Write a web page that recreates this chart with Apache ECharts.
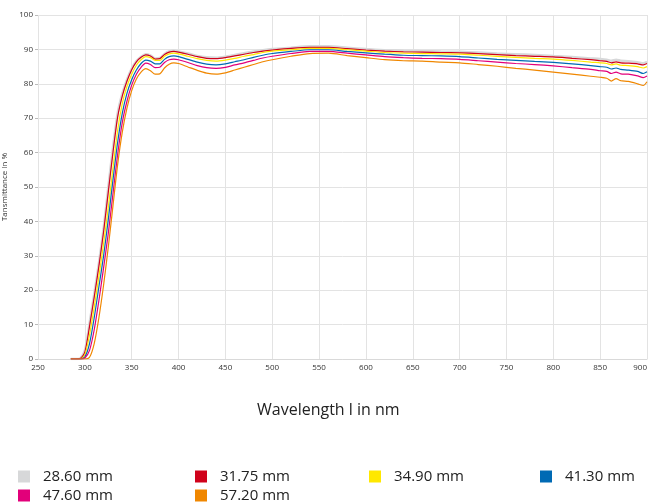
<!DOCTYPE html>
<html>
<head>
<meta charset="utf-8">
<script src="https://cdn.jsdelivr.net/npm/echarts@6/dist/echarts.min.js"></script>
<style>html,body{margin:0;padding:0;background:#fff;}#c{width:649px;height:504px;}</style>
</head>
<body>
<div id="c"></div>
<script>
const wavelengths = [285,290,295,300,305,310,315,320,325,330,335,340,345,350,355,360,365,370,375,380,385,390,395,400,410,420,430,440,450,460,470,480,490,500,520,540,560,580,600,620,640,660,680,700,720,740,760,780,800,820,840,850,857,862,867,872,880,890,896,900];

const s2860 = [0,0,0.2,2.5,10.5,19,28,38,50,61.5,71.5,77.2,81.3,84.4,86.6,87.9,88.6,88.3,87.4,87.5,88.7,89.4,89.6,89.4,88.8,88.1,87.7,87.6,87.9,88.4,88.9,89.4,89.8,90.1,90.5,90.9,90.9,90.5,90.1,89.8,89.6,89.5,89.4,89.3,89.1,88.8,88.6,88.4,88.1,87.8,87.4,87.2,87.0,86.7,87.0,86.7,86.6,86.3,86.0,86.4];
const s3175 = [0,0,0.1,2,9.5,18,27,37,48.5,60,70.3,76.5,80.8,84.1,86.4,87.7,88.4,88.1,87.2,87.3,88.5,89.2,89.4,89.2,88.6,87.9,87.4,87.3,87.6,88.1,88.6,89.1,89.5,89.8,90.3,90.6,90.6,90.2,89.8,89.5,89.3,89.2,89.1,89.0,88.8,88.5,88.2,88.0,87.8,87.4,87.0,86.7,86.5,86.1,86.4,86.1,86.0,85.8,85.5,85.9];
const s3490 = [0,0,0,1.2,7,15,24,33.5,44,55.5,66.5,74.3,79.3,82.8,85.4,87.0,87.9,87.6,86.8,86.8,88,88.7,88.9,88.7,88,87.3,86.8,86.6,86.9,87.4,88,88.5,89.1,89.5,89.9,90.3,90.3,89.9,89.5,89.1,88.9,88.8,88.7,88.6,88.3,88.0,87.7,87.4,87.2,86.8,86.3,86.1,85.9,85.5,85.8,85.4,85.3,85.0,84.6,85.0];
const s4130 = [0,0,0,0.6,4.5,12,21,30,40.5,52,63,71.5,77.3,81.2,84.0,85.9,86.9,86.6,85.8,85.8,87.1,87.9,88.1,87.9,87.1,86.3,85.7,85.5,85.8,86.4,87,87.7,88.3,88.8,89.4,89.9,89.9,89.4,89.0,88.6,88.3,88.2,88.1,87.9,87.5,87.1,86.8,86.5,86.2,85.8,85.3,85.0,84.8,84.3,84.6,84.2,84.0,83.6,83.0,83.5];
const s4760 = [0,0,0,0.3,2.5,8.5,17,26.5,36.5,48,59.5,68.8,75.0,79.6,82.8,84.8,86.0,85.6,84.7,84.8,86.2,87.0,87.2,87.0,86.2,85.3,84.7,84.5,84.8,85.5,86.1,86.8,87.5,88.0,88.8,89.4,89.4,88.9,88.4,87.9,87.6,87.4,87.3,87.1,86.7,86.3,85.9,85.6,85.2,84.7,84.2,83.8,83.6,83.0,83.4,82.9,82.8,82.3,81.8,82.3];
const s5720 = [0,0,0,0,0.5,4.5,12,21.5,32.5,44.5,56.5,66,73.0,78.0,81.4,83.4,84.4,83.8,82.8,82.9,84.6,85.7,86.1,85.9,84.9,83.9,83.1,82.8,83.2,84.0,84.8,85.6,86.4,87.0,88.0,88.8,88.9,88.2,87.6,87.0,86.7,86.6,86.3,86.1,85.6,85.1,84.5,84.0,83.4,82.8,82.2,81.9,81.6,80.8,81.5,80.9,80.7,80.0,79.5,80.6];

const seriesNames = ['28.60 mm','31.75 mm','34.90 mm','41.30 mm','47.60 mm','57.20 mm'];
const seriesValues = [s2860, s3175, s3490, s4130, s4760, s5720];
const colors = ['#d7d8d9','#d0021b','#ffe800','#006ab4','#e2007a','#f08700'];
const widths = [2.4, 1.2, 1.2, 1.2, 1.2, 1.2];

const legendPos = [[18,469],[195,469],[369,469],[540,469],[18,488],[195,488]];

const chart = echarts.init(document.getElementById('c'), null, {renderer:'canvas'});
const font = 'Open Sans, Noto Sans, sans-serif';

const option = {
  backgroundColor: '#fff',
  animation: false,
  grid: {left: 38, right: 2, top: 15, bottom: 145, containLabel: false, outerBoundsMode: 'none'},
  xAxis: {
    type: 'value', min: 250, max: 900, interval: 50,
    axisLine: {show: true, lineStyle: {color: '#d9d9d9'}},
    axisTick: {show: false},
    axisLabel: {color: '#333', fontSize: 8, fontFamily: font, margin: 5, alignMaxLabel: 'right'},
    splitLine: {show: true, lineStyle: {color: '#e3e3e3', width: 1}}
  },
  yAxis: {
    type: 'value', min: 0, max: 100, interval: 10,
    name: 'Tansmittance in %', nameLocation: 'middle', nameGap: 25,
    nameTextStyle: {color: '#333', fontSize: 8, fontFamily: font},
    axisLine: {show: false},
    axisTick: {show: true, length: 3, lineStyle: {color: '#bbb'}},
    axisLabel: {color: '#333', fontSize: 8, fontFamily: font, margin: 5},
    splitLine: {show: true, lineStyle: {color: '#e3e3e3', width: 1}}
  },
  legend: seriesNames.map((n, i) => ({
    data: [n], left: legendPos[i][0], top: legendPos[i][1], orient: 'horizontal',
    padding: 0,
    icon: 'rect', itemWidth: 12, itemHeight: 12,
    textStyle: {color: '#222', fontSize: 15, fontFamily: font, padding: [0,0,0,8]},
    selectedMode: false
  })),
  graphic: [{
    type: 'text', left: 257, top: 402,
    style: {text: 'Wavelength l in nm', fill: '#222', font: '16px ' + font}
  }],
  series: seriesNames.map((n, i) => ({
    name: n, type: 'line', smooth: 0.25, showSymbol: false, symbol: 'none',
    data: wavelengths.map((w, k) => [w, seriesValues[i][k]]),
    lineStyle: {color: colors[i], width: widths[i]},
    itemStyle: {color: colors[i]},
    z: 2 + i
  }))
};
chart.setOption(option);
</script>
</body>
</html>
